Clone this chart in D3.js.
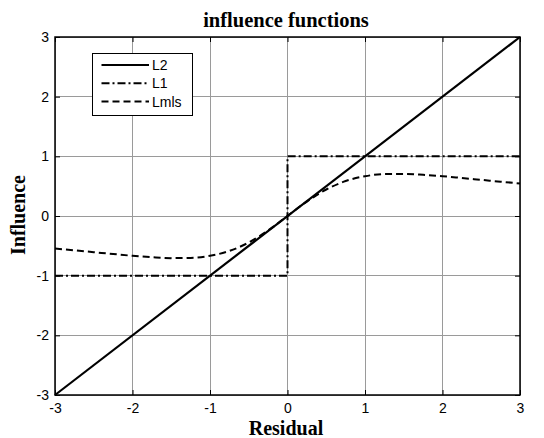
<!DOCTYPE html>
<html><head><meta charset="utf-8">
<script src="https://cdn.jsdelivr.net/npm/d3@7"></script>
<style>body{margin:0;background:#fff}svg{display:block}</style>
</head><body>
<script>
const residual = [-3,-2.75,-2.5,-2.25,-2,-1.75,-1.5,-1.25,-1,-0.75,-0.5,-0.25,0,0.25,0.5,0.75,1,1.25,1.5,1.75,2,2.25,2.5,2.75,3];
const lmls = [-0.545,-0.575,-0.606,-0.637,-0.667,-0.691,-0.706,-0.702,-0.667,-0.586,-0.444,-0.242,0,0.242,0.444,0.586,0.667,0.702,0.706,0.691,0.667,0.637,0.606,0.575,0.545];
const l2x = [-3,3], l2y = [-3,3];
const l1x = [-3,0,0,3], l1y = [-1,-1,1,1];
const xTicks = [-3,-2,-1,0,1,2,3];
const yTicks = [-3,-2,-1,0,1,2,3];
const seriesNames = ["L2","L1","Lmls"];

const W=544,H=438;
const svg=d3.select("body").append("svg").attr("width",W).attr("height",H);
const m={l:55,r:520,t:37,b:395};
const x=d3.scaleLinear().domain([-3,3]).range([m.l,m.r]);
const y=d3.scaleLinear().domain([-3,3]).range([m.b,m.t]);

// grid
const g=svg.append("g");
g.selectAll(".gx").data(xTicks).join("line").attr("x1",d=>x(d)).attr("x2",d=>x(d)).attr("y1",m.t).attr("y2",m.b).attr("stroke","#9a9a9a").attr("stroke-width",1).attr("shape-rendering","crispEdges");
g.selectAll(".gy").data(yTicks).join("line").attr("y1",d=>y(d)).attr("y2",d=>y(d)).attr("x1",m.l).attr("x2",m.r).attr("stroke","#9a9a9a").attr("stroke-width",1).attr("shape-rendering","crispEdges");

// axes
const fmt=d=>String(d);
const ax=d3.axisBottom(x).tickValues(xTicks).tickSizeInner(-5).tickSizeOuter(0).tickPadding(8).tickFormat(fmt);
const ay=d3.axisLeft(y).tickValues(yTicks).tickSizeInner(-5).tickSizeOuter(0).tickPadding(8).tickFormat(fmt);
const axt=d3.axisTop(x).tickValues(xTicks).tickSizeInner(-5).tickSizeOuter(0).tickFormat("");
const ayr=d3.axisRight(y).tickValues(yTicks).tickSizeInner(-5).tickSizeOuter(0).tickFormat("");
function style(sel){sel.selectAll("path").remove();sel.selectAll("line").attr("stroke","#000");sel.selectAll("text").attr("font-family","'Liberation Sans',Arial,sans-serif").attr("font-size",14).attr("fill","#000");}
svg.append("g").attr("transform",`translate(0,${m.b})`).call(ax).call(style).call(s=>s.selectAll("text").attr("dy","0.71em"));
svg.append("g").attr("transform",`translate(${m.l},0)`).call(ay).call(style).call(s=>s.selectAll("text").attr("dx","2"));
svg.append("g").attr("transform",`translate(0,${m.t})`).call(axt).call(style);
svg.append("g").attr("transform",`translate(${m.r},0)`).call(ayr).call(style);

// lines
const line=d3.line().x(d=>x(d[0])).y(d=>y(d[1]));
svg.append("path").datum(l2x.map((v,i)=>[v,l2y[i]])).attr("d",line).attr("fill","none").attr("stroke","#000").attr("stroke-width",2.2);
svg.append("path").datum(l1x.map((v,i)=>[v,l1y[i]])).attr("d",line).attr("fill","none").attr("stroke","#000").attr("stroke-width",2).attr("stroke-dasharray","8,3,2,3");
svg.append("path").datum(residual.map((v,i)=>[v,lmls[i]])).attr("d",d3.line().curve(d3.curveMonotoneX).x(d=>x(d[0])).y(d=>y(d[1]))).attr("fill","none").attr("stroke","#000").attr("stroke-width",2).attr("stroke-dasharray","7,4");

// frame
svg.append("rect").attr("x",m.l).attr("y",m.t).attr("width",m.r-m.l).attr("height",m.b-m.t).attr("fill","none").attr("stroke","#000").attr("stroke-width",1.5);

// legend
const lg=svg.append("g");
lg.append("rect").attr("x",92.5).attr("y",53.5).attr("width",100).attr("height",62).attr("fill","#fff").attr("stroke","#000").attr("stroke-width",1);
const dashes=[null,"8,3,2,3","7,4"];
seriesNames.forEach((n,i)=>{
  const yy=65+i*18.3;
  lg.append("line").attr("x1",101.5).attr("x2",149).attr("y1",yy).attr("y2",yy).attr("stroke","#000").attr("stroke-width",2).attr("stroke-dasharray",dashes[i]);
  lg.append("text").attr("x",152).attr("y",yy).attr("dy","0.35em").attr("font-family","'Liberation Sans',Arial,sans-serif").attr("font-size",14).text(n);
});

// titles
const serif="'Liberation Serif','Times New Roman',serif";
svg.append("text").attr("x",286).attr("y",27).attr("text-anchor","middle").attr("font-family",serif).attr("font-weight","bold").attr("font-size",20.5).text("influence functions");
svg.append("text").attr("x",286).attr("y",435).attr("text-anchor","middle").attr("font-family",serif).attr("font-weight","bold").attr("font-size",20).text("Residual");
svg.append("text").attr("transform","translate(25,215) rotate(-90)").attr("text-anchor","middle").attr("font-family",serif).attr("font-weight","bold").attr("font-size",20).text("Influence");
</script>
</body></html>
